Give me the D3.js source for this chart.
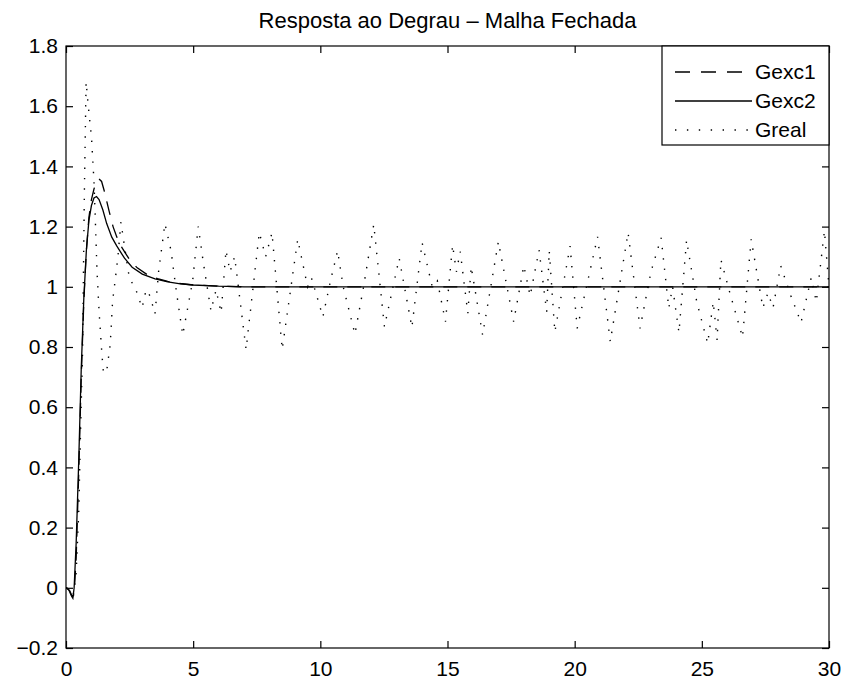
<!DOCTYPE html>
<html>
<head>
<meta charset="utf-8">
<script src="https://cdn.jsdelivr.net/npm/d3@7"></script>
<style>
  body { margin: 0; background: #fff; }
  text { font-family: "Liberation Sans", Arial, Helvetica, sans-serif; }
</style>
</head>
<body>
<svg id="chart" width="845" height="682"></svg>
<script>
// ---------- data ----------
const title = "Resposta ao Degrau – Malha Fechada";
const seriesNames = ["Gexc1", "Gexc2", "Greal"];

const xTicks = [0, 5, 10, 15, 20, 25, 30];
const xTickLabels = ["0", "5", "10", "15", "20", "25", "30"];
const yTicks = [-0.2, 0, 0.2, 0.4, 0.6, 0.8, 1, 1.2, 1.4, 1.6, 1.8];
const yTickLabels = ["−0.2", "0", "0.2", "0.4", "0.6", "0.8", "1", "1.2", "1.4", "1.6", "1.8"];

// Gexc1 (dashed) : [time, value]
const gexc1 = [
  [0,0],[0.15,-0.01],[0.25,-0.03],[0.32,-0.02],[0.4,0.1],[0.5,0.38],[0.6,0.7],[0.7,0.95],
  [0.8,1.12],[0.9,1.23],[1.0,1.29],[1.1,1.325],[1.2,1.35],[1.3,1.358],[1.4,1.35],[1.5,1.32],
  [1.6,1.285],[1.7,1.25],[1.85,1.2],[2.0,1.165],[2.2,1.13],[2.5,1.09],[2.8,1.063],[3.2,1.04],
  [3.6,1.027],[4,1.018],[4.5,1.011],[5,1.006],[6,1.002],[7,1.0],[30,1.0]
];
// Gexc2 (solid)
const gexc2 = [
  [0,0],[0.1,-0.005],[0.2,-0.025],[0.27,-0.035],[0.32,0],[0.4,0.15],[0.5,0.42],[0.6,0.73],
  [0.7,0.96],[0.8,1.12],[0.9,1.22],[1.0,1.27],[1.1,1.295],[1.2,1.30],[1.3,1.29],[1.45,1.255],
  [1.6,1.21],[1.8,1.165],[2.0,1.135],[2.3,1.095],[2.6,1.065],[3.0,1.042],[3.5,1.026],[4.0,1.016],
  [4.5,1.01],[5.0,1.006],[6,1.002],[7,1.0],[30,1.0]
];
// Greal (dotted)
const greal = [
  [0,0],[0.2,0],[0.3,-0.02],[0.4,0.05],[0.5,0.25],[0.58,0.55],[0.65,0.78],[0.72,1.3],[0.79,1.68],
  [0.9,1.58],[1.0,1.5],[1.1,1.35],[1.15,1.23],[1.22,1.05],[1.3,0.92],[1.4,0.79],[1.47,0.714],
  [1.6,0.72],[1.74,0.81],[1.83,0.95],[2.03,1.09],[2.16,1.215],[2.29,1.14],[2.49,1.03],[2.75,0.99],
  [2.99,0.93],[3.15,0.99],[3.3,0.97],[3.5,0.91],[3.64,1.05],[3.89,1.21],[4.13,1.12],[4.33,0.99],
  [4.59,0.84],[4.98,1.02],[5.2,1.2],[5.4,1.08],[5.7,0.92],[5.9,0.99],[6.1,0.914],[6.29,1.122],
  [6.45,1.05],[6.63,1.1],[7.08,0.792],[7.6,1.18],[7.85,1.1],[8.1,1.18],[8.5,0.792],[9.11,1.158],
  [9.5,1.0],[9.65,1.03],[10.1,0.9],[10.4,1.02],[10.68,1.12],[10.9,1.0],[11.36,0.843],[11.7,1.0],
  [12.1,1.207],[12.52,0.867],[13.1,1.095],[13.6,0.865],[14.0,1.147],[14.4,1.0],[14.6,1.02],
  [14.92,0.884],[15.2,1.139],[15.35,1.05],[15.5,1.117],[15.8,0.912],[15.93,1.067],[16.38,0.84],
  [17.0,1.15],[17.6,0.884],[18.0,1.07],[18.25,0.97],[18.6,1.122],[18.9,0.917],[19.0,1.12],
  [19.22,0.85],[19.82,1.135],[20.1,0.862],[20.9,1.166],[21.4,0.818],[22.1,1.18],[22.57,0.862],
  [23.0,1.05],[23.4,1.163],[23.7,0.929],[23.85,1.0],[24.1,0.848],[24.4,1.155],[24.8,0.95],
  [25.23,0.812],[25.45,0.95],[25.6,0.823],[25.75,1.09],[26.1,0.98],[26.6,0.832],[26.94,1.158],
  [27.4,0.93],[27.6,0.98],[27.8,0.93],[28.1,1.07],[28.5,0.97],[28.9,0.881],[29.3,1.03],
  [29.5,0.95],[29.82,1.186],[30,1.0]
];

// ---------- layout ----------
const svg = d3.select("#chart");
const L = 66, R = 829, T = 46, B = 648;
const FS = 21;

const x = d3.scaleLinear().domain([0, 30]).range([L, R]);
const y = d3.scaleLinear().domain([-0.2, 1.8]).range([B, T]);

svg.append("rect").attr("width", 845).attr("height", 682).attr("fill", "#fff");

svg.append("defs").append("clipPath").attr("id", "clip")
  .append("rect").attr("x", L).attr("y", T).attr("width", R - L).attr("height", B - T);

// axes
function styleAxis(g) {
  g.select(".domain").remove();
  g.selectAll(".tick line").attr("stroke", "#000").attr("stroke-width", 1.2);
  g.selectAll(".tick text").attr("fill", "#000").style("font-size", FS + "px")
    .style("font-family", '"Liberation Sans", Arial, sans-serif');
}

svg.append("g").attr("transform", `translate(0,${B})`)
  .call(d3.axisBottom(x).tickValues(xTicks).tickFormat((d, i) => xTickLabels[i]).tickSize(-7).tickPadding(13))
  .call(styleAxis);
svg.append("g").attr("transform", `translate(0,${T})`)
  .call(d3.axisTop(x).tickValues(xTicks).tickFormat("").tickSize(-7))
  .call(styleAxis);
svg.append("g").attr("transform", `translate(${L},0)`)
  .call(d3.axisLeft(y).tickValues(yTicks).tickFormat((d, i) => yTickLabels[i]).tickSize(-7).tickPadding(8))
  .call(styleAxis);
svg.append("g").attr("transform", `translate(${R},0)`)
  .call(d3.axisRight(y).tickValues(yTicks).tickFormat("").tickSize(-7))
  .call(styleAxis);

// lines
const line = d3.line().x(d => x(d[0])).y(d => y(d[1]));
const plot = svg.append("g").attr("clip-path", "url(#clip)");

const styles = {
  Gexc1: { dash: "14,10", width: 1.3 },
  Gexc2: { dash: null, width: 1.3 },
  Greal: { dash: "1.4,9", width: 1.4 }
};
const data = { Gexc1: gexc1, Gexc2: gexc2, Greal: greal };

["Greal", "Gexc1", "Gexc2"].forEach(name => {
  plot.append("path").datum(data[name])
    .attr("d", line)
    .attr("fill", "none")
    .attr("stroke", "#000")
    .attr("stroke-width", styles[name].width)
    .attr("stroke-dasharray", styles[name].dash);
});

// box
svg.append("rect").attr("x", L).attr("y", T).attr("width", R - L).attr("height", B - T)
  .attr("fill", "none").attr("stroke", "#000").attr("stroke-width", 1.2);

// title
svg.append("text").attr("x", (L + R) / 2).attr("y", 28)
  .attr("text-anchor", "middle").style("font-size", "22px").text(title);

// legend
const lg = svg.append("g");
lg.append("rect").attr("x", 662).attr("y", T).attr("width", R - 662).attr("height", 99)
  .attr("fill", "#fff").attr("stroke", "#000").attr("stroke-width", 1.2);
const legY = [72, 101, 130];
const legDash = { Gexc1: "15,11", Gexc2: null, Greal: "1.4,10.5" };
seriesNames.forEach((name, i) => {
  lg.append("line").attr("x1", 675).attr("x2", 752).attr("y1", legY[i]).attr("y2", legY[i])
    .attr("stroke", "#000").attr("stroke-width", styles[name].width)
    .attr("stroke-dasharray", legDash[name]);
  lg.append("text").attr("x", 755).attr("y", legY[i]).attr("dy", "0.35em")
    .style("font-size", FS + "px").text(name);
});
</script>
</body>
</html>
